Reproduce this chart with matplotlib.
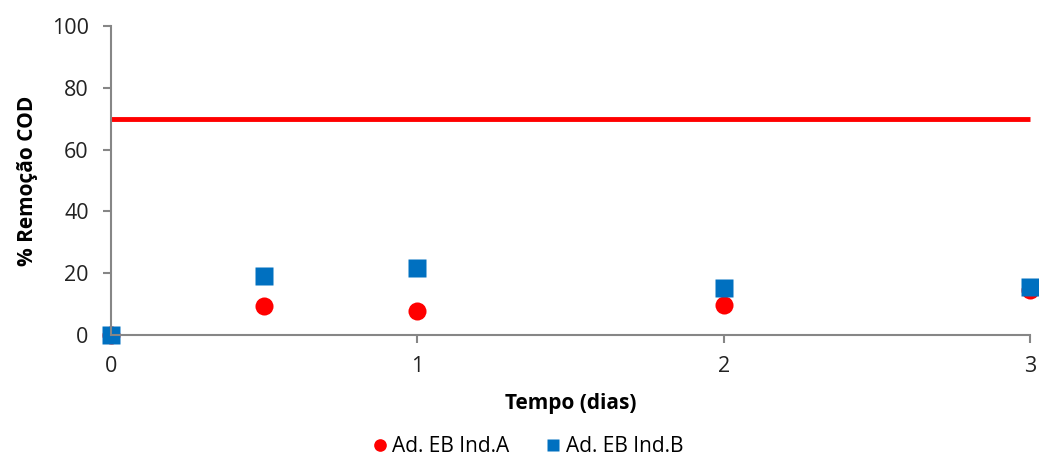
import numpy as np
import matplotlib.pyplot as plt

dias = [0, 0.5, 1, 2, 3]
ind_a = [0, 9.4, 7.6, 9.6, 14.5]
ind_b = [0, 19.1, 21.7, 15.1, 15.6]
limite = 70

plt.rcParams['font.family'] = ['Open Sans', 'DejaVu Sans']

fig = plt.figure(figsize=(10.39, 4.58), dpi=100)
ax = fig.add_axes([0.1068, 0.2686, 0.8845, 0.6746])

ax.plot([0, 3], [limite, limite], color='#ff0000', lw=3.5, solid_capstyle='butt', clip_on=False)
ax.plot(dias, ind_a, 'o', color='#ff0000', ms=13, mec='none', clip_on=False, label='Ad. EB Ind.A')
ax.plot(dias, ind_b, 's', color='#0070c0', ms=13, mec='none', clip_on=False, label='Ad. EB Ind.B')

ax.set_xlim(0, 3)
ax.set_ylim(0, 100)
ax.set_xticks([0, 1, 2, 3])
ax.set_yticks(np.arange(0, 101, 20))
for s in ['top', 'right']:
    ax.spines[s].set_visible(False)
for s in ['left', 'bottom']:
    ax.spines[s].set_color('#868686')
    ax.spines[s].set_linewidth(1.5)
ax.tick_params(colors='#868686', width=1.5, length=6, labelcolor='#222222', labelsize=15.5)
ax.tick_params(axis='x', pad=9)
ax.tick_params(axis='y', pad=10)

ax.set_xlabel('Tempo (dias)', fontsize=15, fontweight='bold', labelpad=12)
ax.set_ylabel('% Remoção COD', fontsize=15, fontweight='bold', labelpad=10)

ax.legend(loc='center', bbox_to_anchor=(0.452, -0.362), ncol=2, frameon=False,
          fontsize=15, handletextpad=0.1, columnspacing=1.6, markerscale=0.7,
          handlelength=1.0)

fig.savefig('out.png', dpi=100)
